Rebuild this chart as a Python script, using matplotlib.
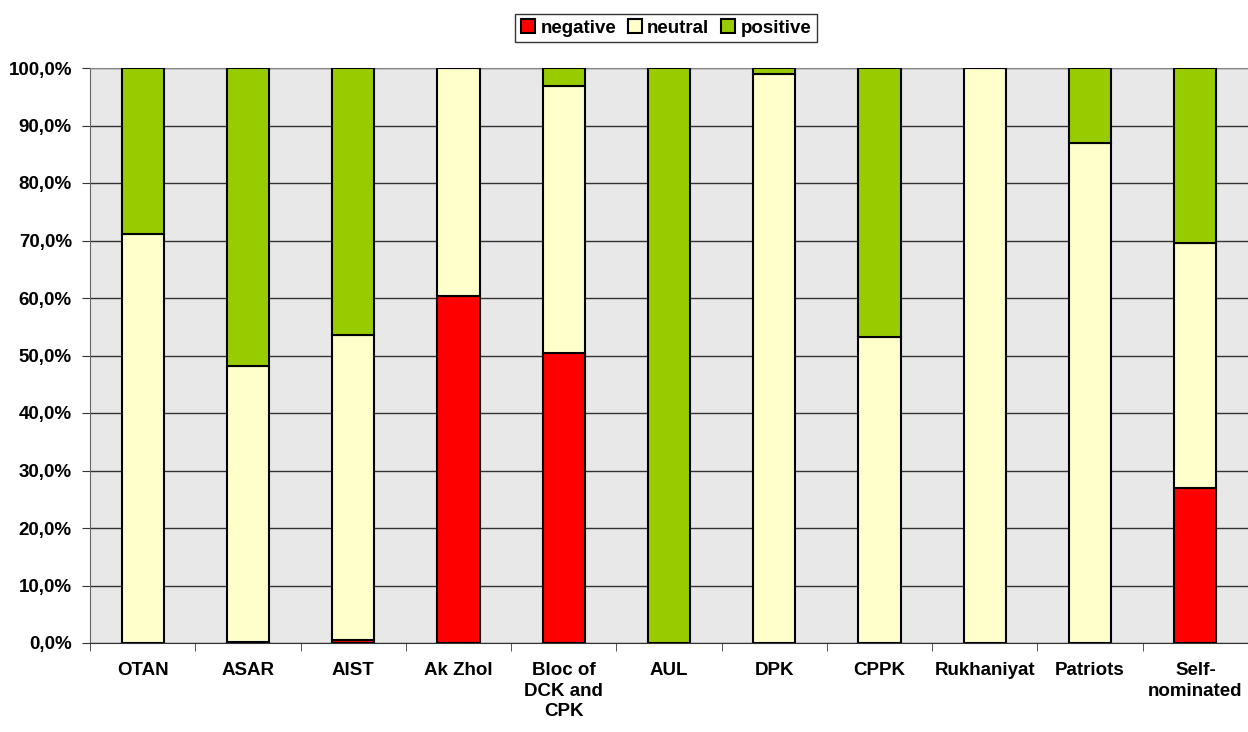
import matplotlib.pyplot as plt
import numpy as np
from matplotlib.ticker import FixedLocator, NullFormatter

plt.rcParams['font.family'] = ['Liberation Sans', 'DejaVu Sans']
plt.rcParams['font.weight'] = 'bold'

# Data (% of mentions)
parties = ['OTAN', 'ASAR', 'AIST', 'Ak Zhol', 'Bloc of\nDCK and\nCPK', 'AUL', 'DPK',
           'CPPK', 'Rukhaniyat', 'Patriots', 'Self-\nnominated']
negative = [0.0, 0.2, 0.6, 60.3, 50.4, 0.0, 0.0, 0.0, 0.0, 0.0, 27.0]
neutral = [71.1, 48.0, 53.0, 39.7, 46.5, 0.0, 99.0, 53.2, 100.0, 87.0, 42.6]
positive = [28.9, 51.8, 46.4, 0.0, 3.1, 100.0, 1.0, 46.8, 0.0, 13.0, 30.4]

colors = {'negative': '#FF0000', 'neutral': '#FFFFCC', 'positive': '#99CC00'}
fs = 13.5

fig = plt.figure(figsize=(12.48, 7.32), dpi=100)
ax = fig.add_axes([90 / 1248, 1 - 643 / 732, 1158 / 1248, 575 / 732])
ax.set_facecolor('#e8e8e8')

x = np.arange(len(parties))
neg = np.array(negative)
neu = np.array(neutral)
pos = np.array(positive)
w = 0.4
ax.bar(x, neg, w, color=colors['negative'], edgecolor='black', linewidth=1.5,
       label='negative', zorder=3)
ax.bar(x, neu, w, bottom=neg, color=colors['neutral'], edgecolor='black', linewidth=1.5,
       label='neutral', zorder=3)
ax.bar(x, pos, w, bottom=neg + neu, color=colors['positive'], edgecolor='black',
       linewidth=1.5, label='positive', zorder=3)

ax.set_xlim(-0.5, len(parties) - 0.5)
ax.set_ylim(0, 100)
ax.set_yticks(np.arange(0, 101, 10))
ax.set_yticklabels([f'{v},0%' for v in range(0, 101, 10)], fontsize=fs, fontweight='bold')
ax.yaxis.grid(True, color='#333333', linewidth=1, zorder=1)
ax.set_axisbelow(True)

ax.set_xticks(x)
ax.set_xticklabels(parties, fontsize=fs, fontweight='bold', linespacing=1.25)
ax.tick_params(axis='x', length=0, pad=14)
ax.xaxis.set_minor_locator(FixedLocator(np.arange(-0.5, len(parties), 1.0)))
ax.xaxis.set_minor_formatter(NullFormatter())
ax.tick_params(axis='x', which='minor', length=6, color='#333333')
ax.tick_params(axis='y', length=6, color='#333333', pad=7)

ax.spines['right'].set_visible(False)
ax.spines['top'].set_color('#888888')
ax.spines['left'].set_color('#666666')
ax.spines['bottom'].set_color('#333333')

leg = fig.legend(loc='upper center', bbox_to_anchor=(666 / 1248, 0.994), ncol=3, frameon=True,
                 fancybox=False, edgecolor='black', handlelength=0.75, handleheight=0.75,
                 handletextpad=0.3, columnspacing=0.6, borderpad=0.3,
                 prop={'weight': 'bold', 'size': fs})
leg.get_frame().set_linewidth(1)

fig.savefig('out.png', dpi=100)
